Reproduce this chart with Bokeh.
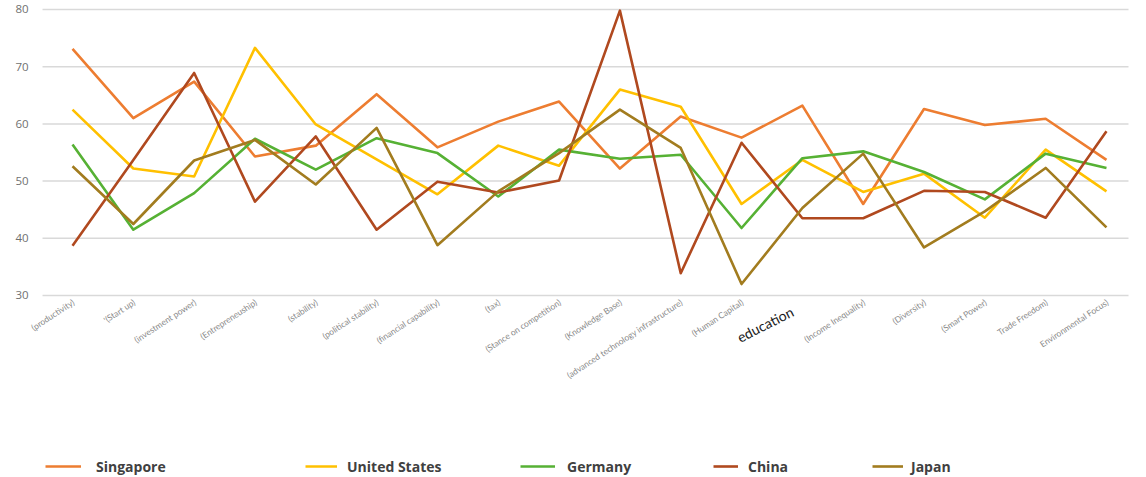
from bokeh.plotting import figure
from bokeh.models import Range1d, Legend, LegendItem, ColumnDataSource
from bokeh.core.properties import value
from bokeh.embed import file_html
from bokeh.resources import INLINE

categories = ["(productivity)", "'(Start up)", "(investment power)", "(Entrepreneuship)",
              "(stability)", "(political stability)", "(financial capability)", "(tax)",
              "(Stance on competition)", "(Knowledge Base)",
              "(advanced technology infrastructure)", "(Human Capital)", "education",
              "(Income Inequality)", "(Diversity)", "(Smart Power)", "Trade Freedom)",
              "Environmental Focus)"]

singapore = [73.1, 61.0, 67.4, 54.3, 56.2, 65.2, 55.9, 60.4, 63.9, 52.2, 61.3, 57.6, 63.2, 46.0, 62.6, 59.8, 60.9, 53.7]
united_states = [62.5, 52.2, 50.8, 73.3, 59.9, 53.8, 47.7, 56.2, 52.7, 66.0, 63.0, 46.0, 53.7, 48.1, 51.3, 43.6, 55.5, 48.2]
germany = [56.4, 41.5, 47.9, 57.4, 52.0, 57.5, 54.9, 47.3, 55.5, 53.9, 54.6, 41.8, 54.0, 55.2, 51.6, 46.8, 54.8, 52.3]
china = [38.7, 53.7, 68.9, 46.4, 57.8, 41.5, 49.9, 48.0, 50.1, 79.8, 33.9, 56.7, 43.5, 43.5, 48.3, 48.1, 43.6, 58.7]
japan = [52.6, 42.5, 53.6, 57.2, 49.4, 59.3, 38.8, 48.2, 54.9, 62.5, 55.8, 32.0, 45.3, 54.8, 38.4, 44.7, 52.3, 41.9]

series_names = ["Singapore", "United States", "Germany", "China", "Japan"]
series_values = [singapore, united_states, germany, china, japan]
colors = ["#ED7D31", "#FFC000", "#56B134", "#B0491F", "#A27C1F"]
y_ticks = [30, 40, 50, 60, 70, 80]
highlight = "education"

xs = list(range(len(categories)))
hi = categories.index(highlight)

# plotting-area extent (in category index units) and the canvas-wide view
grid_left, grid_right = -0.493, 17.362
view_x = (-1.184, 17.658)
view_y = (-1.818, 81.573)

p = figure(width=1146, height=477, output_backend="svg", toolbar_location=None,
           x_range=Range1d(*view_x), y_range=Range1d(*view_y),
           x_axis_type=None, y_axis_type=None,
           min_border_left=0, min_border_right=0, min_border_top=0,
           min_border_bottom=0)
p.outline_line_color = None
p.background_fill_color = "white"
p.border_fill_color = "white"
p.grid.grid_line_color = None

# horizontal gridlines at the value ticks
n_t = len(y_ticks)
p.segment(x0=[grid_left] * n_t, x1=[grid_right] * n_t, y0=y_ticks, y1=y_ticks,
          line_color="#D9D9D9", line_width=1.5)

# value tick labels
p.text(x=[grid_left] * n_t, y=y_ticks, text=[str(t) for t in y_ticks],
       x_offset=-14, text_align="right", text_baseline="middle",
       text_font=value("Open Sans"), text_font_size="11.5px", text_color="#707070")

renderers = []
for name, vals, col in zip(series_names, series_values, colors):
    r = p.line(xs, vals, line_color=col, line_width=2.6, line_join="round")
    renderers.append(r)

# category labels along the bottom gridline
n = len(categories)
lab_colors = ["#8a8a8a"] * n
lab_sizes = ["8.5px"] * n
lab_angles = [0.58] * n
lab_dy = [6] * n
lab_dx = [1] * n
lab_colors[hi] = "#1a1a1a"
lab_sizes[hi] = "14px"
lab_angles[hi] = 0.47
lab_dy[hi] = 15
lab_dx[hi] = -10
lab_src = ColumnDataSource(dict(x=xs, y=[y_ticks[0]] * n, text=categories,
                                color=lab_colors, size=lab_sizes, angle=lab_angles,
                                dy=lab_dy, dx=lab_dx))
p.text(x="x", y="y", text="text", source=lab_src, angle="angle", text_align="right",
       text_baseline="middle", y_offset="dy", x_offset="dx", text_color="color",
       text_font_size="size", text_font=value("Lato"))

# legend entries
legend_x = [45, 305, 520, 713, 872]
glyph_w = [36, 32, 35, 25, 31]
standoff = [15, 10, 12, 10, 8]
for name, r, lx, gw, so in zip(series_names, renderers, legend_x, glyph_w, standoff):
    lg = Legend(items=[LegendItem(label=name, renderers=[r])], location=(lx, 1),
                orientation="horizontal", padding=0, margin=0, spacing=0,
                glyph_width=gw, glyph_height=20, label_height=20, label_standoff=so,
                label_text_font="Open Sans", label_text_font_style="bold",
                label_text_font_size="14px", label_text_color="#404040",
                border_line_color=None, background_fill_alpha=0)
    p.add_layout(lg, "center")

open("out.html", "w").write(file_html(p, INLINE))
